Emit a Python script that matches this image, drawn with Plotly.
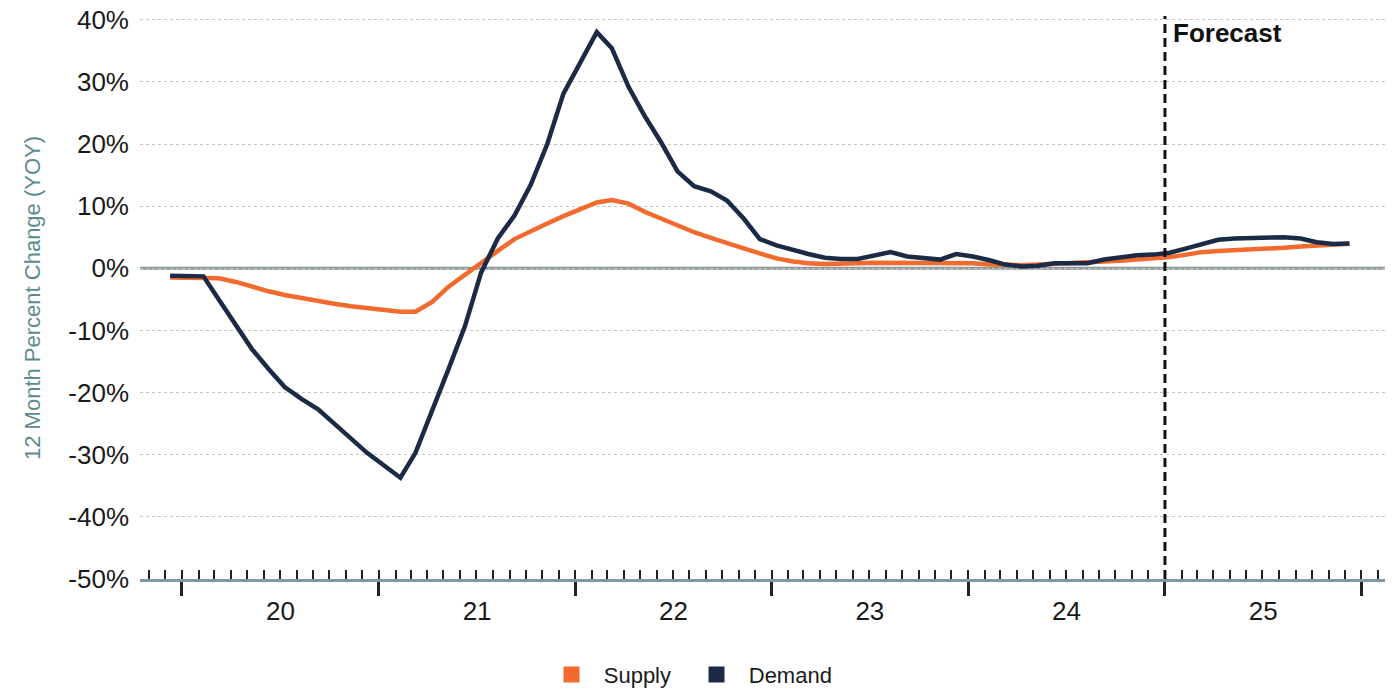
import pandas as pd
import plotly.graph_objects as go

# Monthly readings, Dec 2019 - Dec 2025 (year-over-year % change)
months = pd.date_range("2019-12-01", "2025-12-01", freq="MS")

supply = [
    -1.5, -1.5, -1.5, -1.6, -2.2, -3.0, -3.7, -4.3, -4.8, -5.3, -5.7, -6.1,
    -6.4, -6.8, -7.0, -7.0, -5.4, -3.0, -1.0, 0.9, 2.8, 4.7, 6.0, 7.2,
    8.4, 9.6, 10.6, 11.0, 10.4, 9.1, 8.0, 6.9, 5.8, 4.9, 4.0, 3.2,
    2.4, 1.6, 1.1, 0.8, 0.7, 0.7, 0.8, 0.9, 0.9, 0.9, 0.9, 0.8,
    0.8, 0.8, 0.6, 0.5, 0.5, 0.6, 0.7, 0.8, 0.9, 1.0, 1.2, 1.4,
    1.6, 1.8, 2.2, 2.6, 2.8, 2.9, 3.0, 3.1, 3.3, 3.5, 3.6, 3.8,
    3.95,
]

demand = [
    -1.2, -1.2, -1.3, -5.1, -9.2, -13.0, -16.2, -19.1, -21.0, -22.7, -25.0, -27.3,
    -29.7, -31.7, -33.7, -29.7, -23.1, -16.3, -9.3, -0.7, 4.8, 8.5, 13.4, 20.0,
    28.1, 33.0, 38.0, 35.4, 29.2, 24.5, 20.2, 15.6, 13.2, 12.4, 10.9, 8.0,
    4.7, 3.7, 2.9, 2.3, 1.7, 1.5, 1.5, 2.0, 2.6, 1.9, 1.6, 1.4,
    2.3, 1.9, 1.3, 0.6, 0.3, 0.4, 0.8, 0.75, 0.8, 1.4, 1.8, 2.1,
    2.2, 2.5, 3.2, 3.8, 4.6, 4.8, 4.9, 5.0, 5.0, 4.8, 4.2, 3.9,
    4.0,
]

y_ticks = [40, 30, 20, 10, 0, -10, -20, -30, -40, -50]
y_labels = ["40%", "30%", "20%", "10%", "0%", "-10%", "-20%", "-30%", "-40%", "-50%"]
forecast_start = "2025-01-01"

SUPPLY_COLOR = "#f26a2e"
DEMAND_COLOR = "#1c2b45"
FONT = "Liberation Sans, Arial, sans-serif"

# each monthly reading sits a little into its month
x = months + pd.Timedelta(days=9)

x_range = ["2019-10-15", "2026-02-14"]
y_range = [-50, 40.6]

fig = go.Figure()

fig.add_trace(go.Scatter(
    x=x, y=supply, mode="lines", name="Supply", showlegend=False,
    line=dict(color=SUPPLY_COLOR, width=4.5, shape="linear"),
))
fig.add_trace(go.Scatter(
    x=x, y=demand, mode="lines", name="Demand", showlegend=False,
    line=dict(color=DEMAND_COLOR, width=4.5, shape="linear"),
))

# square legend keys (non-breaking spaces widen the key-to-text gap)
for name, color in [("Supply", SUPPLY_COLOR), ("Demand", DEMAND_COLOR)]:
    fig.add_trace(go.Scatter(
        x=[None], y=[None], mode="markers", name="\u00a0\u00a0" + name,
        marker=dict(symbol="square", size=18, color=color),
    ))

# zero line
fig.add_shape(type="line", xref="paper", x0=0, x1=1, yref="y", y0=0, y1=0,
              line=dict(color="#8d9799", width=3), layer="below")

# forecast divider
fig.add_shape(type="line", xref="x", x0=forecast_start, x1=forecast_start,
              yref="paper", y0=0, y1=1,
              line=dict(color="#111111", width=3, dash="9px,5px"))
fig.add_annotation(x=forecast_start, xref="x", xanchor="left", xshift=6,
                   y=0.970, yref="paper", yanchor="middle",
                   text="<b>Forecast</b>", showarrow=False,
                   font=dict(family=FONT, size=26, color="#111111"))

# y-axis title
fig.add_annotation(x=-0.098, xref="paper", y=0.5, yref="paper",
                   text="12 Month Percent Change (YOY)", textangle=-90,
                   showarrow=False,
                   font=dict(family=FONT, size=22, color="#5d8b8f"))

fig.update_layout(
    width=1397, height=692,
    margin=dict(l=140, r=12, t=16, b=113, autoexpand=False),
    paper_bgcolor="white", plot_bgcolor="white",
    font=dict(family=FONT, color="#1a1a1a"),
    legend=dict(orientation="h", x=0.447, xanchor="center",
                yref="container", y=0.025, yanchor="middle",
                font=dict(family=FONT, size=22, color="#1a1a1a"),
                entrywidth=100, itemsizing="trace"),
    xaxis=dict(
        type="date", range=x_range, automargin=False,
        tick0="2020-01-01", dtick="M12", tickformat="%y",
        ticklabelmode="period", ticklabelstandoff=-7,
        ticks="outside", ticklen=14, tickwidth=2.5, tickcolor="#222222",
        tickfont=dict(family=FONT, size=26, color="#1a1a1a"),
        showgrid=False, zeroline=False,
        showline=True, linecolor="#7f98a3", linewidth=3,
        minor=dict(dtick="M1", tick0="2020-01-01", ticks="inside",
                   ticklen=9, tickwidth=1.8, tickcolor="#222222",
                   showgrid=False),
    ),
    xaxis2=dict(
        type="date", range=x_range, overlaying="x", anchor="y", side="bottom",
        tick0="2020-01-01", dtick="M12", showticklabels=False, automargin=False,
        ticks="inside", ticklen=12, tickwidth=2.5, tickcolor="#222222",
        showgrid=False, zeroline=False, showline=False,
    ),
    yaxis=dict(
        range=y_range, tickvals=y_ticks, ticktext=y_labels, automargin=False,
        tickfont=dict(family=FONT, size=26, color="#1a1a1a"),
        showgrid=True, gridcolor="#c4c4c4", gridwidth=1, griddash="dot",
        zeroline=False, showline=False, ticks="", ticklabelstandoff=10,
    ),
)

fig.write_html("out.html")
